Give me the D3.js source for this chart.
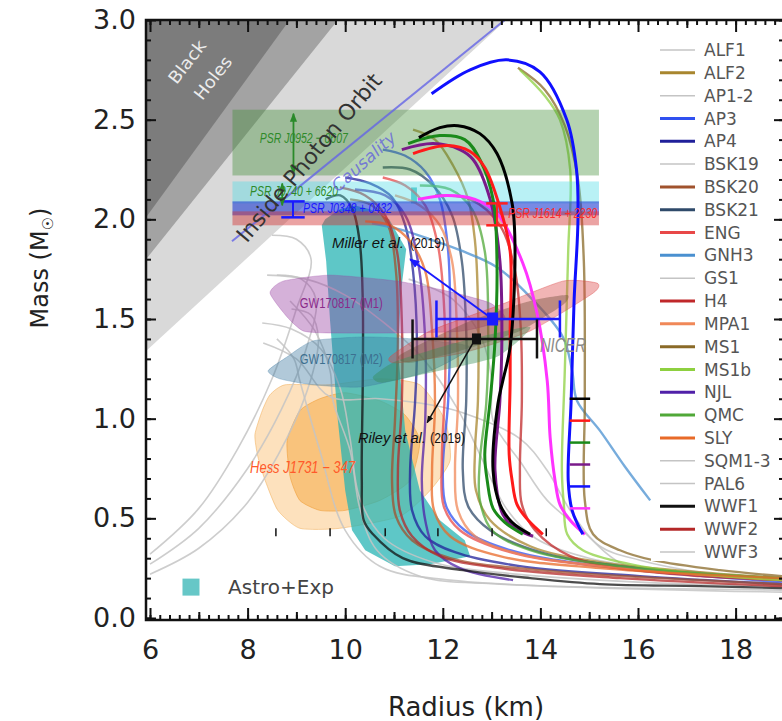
<!DOCTYPE html>
<html>
<head>
<meta charset="utf-8">
<script src="https://cdn.jsdelivr.net/npm/d3@7"></script>
<style>
body { margin: 0; background: #fff; }
</style>
</head>
<body>
<div id="chart"></div>
<script>
// mass-radius diagram: EOS curves + observational constraints
var W = 782, H = 721;

// limit lines, [R km, M Msun]
var bhEdge = [[5.92, 2.01], [8.86, 3.0]];
var buchdahlEdge = [[5.92, 1.80], [9.85, 3.0]];
var photonEdge = [[5.92, 1.34], [13.3, 3.0]];
var causalLine = [[7.68, 1.89], [13.27, 3.0]];

// pulsar mass bands
var psrNames = ["PSR J0952 − 0607", "PSR J0740 + 6620", "PSR J0348 + 0432", "PSR J1614 + 2230"];
var psrLo = [2.22, 2.08, 2.02, 1.97];
var psrHi = [2.55, 2.19, 2.09, 2.04];
var psrR = [7.69, 15.2];

// shaded constraint regions
var astroExp = [[9.52,1.97],[9.61,1.79],[9.69,1.49],[9.85,0.99],[10.0,0.64],[10.14,0.44],[10.41,0.34],[11.02,0.26],[11.74,0.27],[12.56,0.31],[12.45,0.39],[11.94,0.49],[11.53,0.64],[11.23,0.94],[11.08,1.34],[11.15,1.65],[11.25,1.85],[10.9,2.0],[10.51,2.05],[10.2,2.07],[9.89,2.05],[9.59,2.0]];
var astroTab = [[11.35,2.08],[11.35,2.16],[11.47,2.16],[11.47,2.08]];
var hessOuter = [[8.15,0.92],[8.30,1.04],[8.46,1.12],[8.77,1.17],[9.69,1.17],[10.71,1.20],[11.53,1.17],[12.05,0.99],[12.15,0.79],[11.74,0.64],[11.12,0.51],[9.89,0.45],[9.07,0.45],[8.62,0.54],[8.36,0.69],[8.21,0.81]];
var hessInner = [[8.81,0.89],[9.07,1.04],[9.48,1.10],[10.0,1.13],[10.71,1.09],[11.22,1.02],[11.53,0.89],[11.33,0.69],[10.71,0.59],[10.0,0.54],[9.48,0.54],[9.07,0.59],[8.87,0.71]];
var gwM1 = [[8.46,1.63],[8.73,1.69],[9.69,1.72],[11.06,1.69],[12.09,1.64],[12.97,1.58],[13.27,1.50],[12.41,1.44],[11.06,1.43],[9.69,1.43],[9.14,1.44],[8.81,1.51]];
var gwM2 = [[8.42,1.24],[8.81,1.31],[9.34,1.39],[10.36,1.41],[11.39,1.40],[12.56,1.36],[11.74,1.24],[10.36,1.16],[9.34,1.17],[8.66,1.20]];
var nicerRed = [[10.92,1.31],[11.74,1.44],[13.17,1.57],[14.46,1.69],[15.16,1.68],[15.08,1.63],[13.79,1.44],[12.41,1.33],[11.06,1.28]];
var nicerBrown = [[11.12,1.32],[12.56,1.49],[13.79,1.59],[14.55,1.62],[14.46,1.57],[13.58,1.44],[12.35,1.34],[11.33,1.28]];
var nicerGreen = [[10.57,1.21],[11.06,1.29],[12.41,1.39],[13.79,1.46],[13.11,1.31],[11.74,1.23],[10.77,1.18]];

// NICER points: R, M, R low, R high, M half-error
var miller = [13.02, 1.50, 11.87, 14.40, 0.093];
var riley = [12.69, 1.40, 11.38, 13.93, 0.098];

// EOS curves
var eosNames = ["ALF1","ALF2","AP1-2","AP3","AP4","BSK19","BSK20","BSK21","ENG","GNH3","GS1","H4","MPA1","MS1","MS1b","NJL","QMC","SLY","SQM1-3","PAL6","WWF1","WWF2","WWF3"];
var alf1 = [[8.32,1.38],[9.0,1.30],[9.69,1.11],[10.71,1.10],[11.74,1.07],[12.41,1.03],[13.58,0.90],[14.14,0.74],[14.61,0.54],[15.22,0.36],[16.04,0.29],[17.27,0.23],[18.95,0.19]];
var alf2 = [[11.39,2.45],[11.84,2.40],[12.21,2.27],[12.52,2.10],[12.66,1.89],[12.72,1.59],[12.72,1.09],[12.66,0.84],[12.68,0.64],[12.97,0.49],[13.79,0.36],[15.22,0.28],[17.27,0.23],[18.95,0.20]];
var ap12 = [[8.87,1.59],[9.38,1.44],[9.69,1.24],[9.75,1.09],[10.1,0.84],[10.3,0.55],[10.65,0.34],[11.53,0.21],[13.17,0.17],[18.95,0.14]];
var ap3 = [[10.77,2.35],[11.22,2.32],[11.64,2.24],[11.94,2.10],[12.11,1.84],[12.15,1.44],[12.11,1.09],[12.00,0.74],[12.07,0.56],[12.45,0.44],[13.38,0.34],[15.22,0.26],[18.95,0.18]];
var ap4 = [[10.0,2.21],[10.51,2.18],[10.96,2.11],[11.23,1.97],[11.39,1.74],[11.47,1.39],[11.43,1.075],[11.33,0.74],[11.37,0.54],[11.64,0.41],[12.25,0.33],[13.58,0.26],[16.04,0.21],[18.95,0.17]];
var bsk19 = [[8.6,1.40],[8.95,1.30],[9.07,1.19],[9.48,0.84],[10.0,0.44],[10.71,0.26],[12.15,0.19],[18.95,0.13]];
var bsk20 = [[10.1,2.10],[10.55,2.07],[10.88,1.97],[11.04,1.74],[11.08,1.39],[11.02,0.99],[10.96,0.69],[11.04,0.51],[11.37,0.39],[12.15,0.30],[13.99,0.24],[18.95,0.17]];
var bsk21 = [[10.77,2.26],[11.33,2.25],[11.80,2.17],[12.19,2.02],[12.39,1.79],[12.48,1.44],[12.48,1.09],[12.41,0.74],[12.52,0.56],[12.97,0.44],[13.99,0.33],[15.63,0.26],[18.95,0.19]];
var eng = [[10.77,2.21],[11.23,2.17],[11.64,2.07],[11.90,1.87],[12.02,1.59],[12.05,1.19],[11.98,0.79],[12.02,0.56],[12.35,0.44],[13.38,0.33],[15.22,0.26],[18.95,0.19]];
var gnh3 = [[10.55,1.98],[11.12,1.95],[11.74,1.90],[12.41,1.84],[13.11,1.76],[13.79,1.61],[14.46,1.41],[14.65,1.24],[14.75,1.09],[15.22,0.94],[15.73,0.76],[16.25,0.59]];
var gs1 = [[11.3,1.70],[12.2,1.60],[12.8,1.40],[13.0,1.20],[13.03,0.99],[13.6,0.78],[14.14,0.59],[14.81,0.45],[15.69,0.27],[17.0,0.22],[18.95,0.19]];
var h4 = [[11.84,2.12],[12.56,2.10],[13.17,1.97],[13.48,1.74],[13.60,1.44],[13.62,1.09],[13.58,0.74],[13.62,0.57],[13.89,0.44],[14.61,0.31],[15.63,0.25],[17.27,0.21],[18.95,0.19]];
var mpa1 = [[11.02,2.12],[11.53,2.07],[11.94,1.97],[12.19,1.79],[12.29,1.44],[12.31,1.075],[12.25,0.74],[12.31,0.54],[12.66,0.41],[13.58,0.32],[15.63,0.25],[18.95,0.19]];
var ms1 = [[13.54,2.76],[14.09,2.65],[14.50,2.47],[14.77,2.20],[14.89,1.79],[14.91,1.09],[14.91,0.59],[15.08,0.42],[15.63,0.34],[16.31,0.29],[17.68,0.24],[18.95,0.21]];
var ms1b = [[13.58,2.75],[14.09,2.62],[14.40,2.50],[14.61,2.25],[14.57,1.84],[14.50,1.24],[14.44,0.74],[14.48,0.57],[14.55,0.42],[14.87,0.34],[15.84,0.27],[17.27,0.22],[18.95,0.19]];
var njl = [[10.2,2.15],[10.82,2.12],[11.23,2.02],[11.49,1.79],[11.64,1.39],[11.64,0.99],[11.57,0.69],[11.64,0.49],[11.84,0.34],[12.35,0.25],[13.44,0.19]];
var qmc = [[11.53,2.17],[12.15,2.15],[12.60,2.05],[12.86,1.84],[12.93,1.44],[12.89,1.075],[12.76,0.79],[12.76,0.59],[13.01,0.44],[13.79,0.34],[15.63,0.26],[18.95,0.20]];
var sly = [[10.41,1.99],[10.92,1.97],[11.33,1.89],[11.64,1.74],[11.78,1.44],[11.84,1.075],[11.78,0.74],[11.82,0.54],[12.15,0.41],[13.17,0.31],[15.22,0.25],[18.95,0.20]];
var sqm1 = [[6.0,0.22],[7.0,0.35],[8.0,0.58],[8.8,0.90],[9.3,1.20],[9.45,1.40],[9.3,1.52],[8.9,1.55]];
var sqm2 = [[6.0,0.27],[7.0,0.45],[8.0,0.75],[8.7,1.05],[9.2,1.35],[9.4,1.60],[9.1,1.70],[8.6,1.72]];
var sqm3 = [[6.0,0.32],[7.0,0.55],[7.8,0.85],[8.5,1.20],[9.0,1.55],[9.3,1.80],[9.0,1.90],[8.5,1.92]];
var pal6 = [[8.3,1.48],[8.9,1.45],[9.5,1.35],[9.9,1.15],[10.1,0.90],[10.3,0.60],[10.8,0.40],[11.8,0.28],[13.5,0.22],[16.0,0.18],[18.95,0.16]];
var wwf1 = [[9.60,2.10],[9.90,2.12],[10.15,2.05],[10.30,1.88],[10.36,1.59],[10.36,1.19],[10.34,0.69],[10.38,0.49],[10.57,0.42],[11.18,0.30],[12.41,0.24],[13.79,0.20],[15.22,0.17],[17.27,0.16],[18.95,0.15]];
var wwf2 = [[9.89,2.16],[10.41,2.12],[10.82,2.02],[11.06,1.84],[11.16,1.49],[11.16,1.075],[11.08,0.74],[11.12,0.54],[11.37,0.41],[11.94,0.31],[13.17,0.25],[15.63,0.20],[18.95,0.16]];
var wwf3 = [[8.4,1.72],[9.2,1.70],[10.0,1.62],[10.8,1.48],[11.6,1.30],[12.3,1.05],[12.8,0.80],[13.3,0.55],[13.9,0.40],[15.0,0.30],[17.0,0.23],[18.95,0.20]];

// overlaid bold curves (inset), keyed by colour tick
var boldBlack = [[11.51,2.41],[11.94,2.46],[12.31,2.47],[12.76,2.43],[13.11,2.33],[13.42,2.08],[13.48,1.84],[13.38,1.36],[13.23,1.19],[13.13,1.075],[13.03,0.74],[13.17,0.57],[13.42,0.48],[13.79,0.42]];
var boldRed = [[11.39,2.33],[12.09,2.37],[12.56,2.34],[12.86,2.26],[13.17,2.06],[13.38,1.84],[13.38,1.44],[13.38,1.19],[13.36,0.82],[13.42,0.69],[13.52,0.57],[13.75,0.49],[14.05,0.42]];
var boldGreen = [[11.29,2.38],[11.94,2.42],[12.45,2.40],[12.76,2.30],[13.03,2.10],[13.11,1.79],[13.07,1.39],[12.97,1.09],[12.86,0.82],[12.91,0.69],[13.03,0.55],[13.27,0.48],[13.64,0.42]];
var boldPurple = [[11.16,2.35],[11.80,2.38],[12.35,2.35],[12.62,2.30],[12.97,2.10],[13.17,1.79],[13.21,1.39],[13.17,1.09],[13.07,0.74],[13.23,0.52],[13.48,0.45],[13.85,0.41]];
var boldBlue = [[11.77,2.63],[12.56,2.75],[13.31,2.80],[13.99,2.74],[14.54,2.50],[14.74,2.25],[14.77,2.0],[14.69,1.59],[14.63,1.09],[14.57,0.69],[14.65,0.54],[14.87,0.42]];
var boldMagenta = [[11.49,2.10],[12.09,2.12],[12.66,2.10],[13.11,2.03],[13.64,1.78],[13.93,1.53],[14.14,1.19],[14.20,0.905],[14.30,0.69],[14.40,0.57],[14.61,0.49],[14.91,0.42]];
var insetKeyM = [1.10, 0.99, 0.88, 0.77, 0.66, 0.55];
var insetKeyR = [14.60, 15.02];
var insetTickR = [8.58, 9.69, 10.82, 11.90, 13.01, 14.12];

// ---------------- scales
var x = d3.scaleLinear().domain([6, 19]).range([150, 784.4]);
var y = d3.scaleLinear().domain([0, 3]).range([618, 20]);
var x0 = 146, x1 = 784, y0 = 20, y1 = 620;

var eosColor = d3.scaleOrdinal(eosNames, ["#c4c4c4","#a8862e","#c4c4c4","#3050f0","#20209a","#c4c4c4","#a0522d","#2f4a6a","#e84848","#4a90d0","#c4c4c4","#c0282a","#f08858","#8a6a28","#8ed040","#5020a8","#50a838","#e86a28","#c4c4c4","#c4c4c4","#111111","#b42828","#c4c4c4"]);
var grayEos = ["ALF1","AP1-2","BSK19","GS1","SQM1-3","PAL6","WWF3"];

var eosTable = [
  {name:"ALF1", pts:alf1}, {name:"AP1-2", pts:ap12}, {name:"BSK19", pts:bsk19}, {name:"GS1", pts:gs1},
  {name:"SQM1-3", pts:sqm1}, {name:"SQM1-3", pts:sqm2}, {name:"SQM1-3", pts:sqm3},
  {name:"PAL6", pts:pal6}, {name:"WWF3", pts:wwf3},
  {name:"ALF2", pts:alf2}, {name:"AP3", pts:ap3}, {name:"AP4", pts:ap4}, {name:"BSK20", pts:bsk20},
  {name:"BSK21", pts:bsk21}, {name:"ENG", pts:eng}, {name:"GNH3", pts:gnh3}, {name:"H4", pts:h4},
  {name:"MPA1", pts:mpa1}, {name:"MS1", pts:ms1}, {name:"MS1b", pts:ms1b}, {name:"NJL", pts:njl},
  {name:"QMC", pts:qmc}, {name:"SLY", pts:sly}, {name:"WWF1", pts:wwf1}, {name:"WWF2", pts:wwf2}
];
var boldTable = [
  {pts:boldMagenta, c:"#ff33ff"}, {pts:boldBlue, c:"#1010ff"}, {pts:boldPurple, c:"#7a1a8a"},
  {pts:boldGreen, c:"#1a8a1a"}, {pts:boldRed, c:"#ff1a1a"}, {pts:boldBlack, c:"#000000"}
];
var insetKeyColors = ["#000000","#ff1a1a","#1a8a1a","#7a1a8a","#1010ff","#ff33ff"];

// ---------------- svg
var svg = d3.select("#chart").append("svg")
  .attr("width", W).attr("height", H)
  .style("font-family", "DejaVu Sans, sans-serif");
var defs = svg.append("defs");
defs.append("clipPath").attr("id", "plotclip")
  .append("rect").attr("x", x0).attr("y", y0).attr("width", x1 - x0).attr("height", y1 - y0);
function addArrow(id, color) {
  defs.append("marker")
    .attr("id", id)
    .attr("viewBox", "0 -5 10 10")
    .attr("refX", 9).attr("refY", 0)
    .attr("markerWidth", 5).attr("markerHeight", 5)
    .attr("orient", "auto-start-reverse")
    .append("path").attr("d", "M0,-4L10,0L0,4Z").attr("fill", color);
}
addArrow("arrBlue", "#1a1aff");
addArrow("arrBlack", "#111");
addArrow("arrGreen", "#2a8a2a");

var line = d3.line().x(function(d){ return x(d[0]); }).y(function(d){ return y(d[1]); })
  .curve(d3.curveCatmullRom.alpha(0.5));
var poly = d3.line().x(function(d){ return x(d[0]); }).y(function(d){ return y(d[1]); })
  .curve(d3.curveLinearClosed);
var blob = d3.line().x(function(d){ return x(d[0]); }).y(function(d){ return y(d[1]); })
  .curve(d3.curveCardinalClosed.tension(0.4));

var plot = svg.append("g").attr("clip-path", "url(#plotclip)");

// gray exclusion triangles
function wedge(edge) { return [[5.92, 3.0], edge[0], edge[1]]; }
plot.append("path").attr("d", poly(wedge(photonEdge))).attr("fill", "#d9d9d9");
plot.append("path").attr("d", poly(wedge(buchdahlEdge))).attr("fill", "#a3a3a3");
plot.append("path").attr("d", poly(wedge(bhEdge))).attr("fill", "#7c7c7c");

// Hess and astro+exp regions
plot.append("path").attr("d", blob(hessOuter)).attr("fill", "rgba(250,180,90,0.4)").attr("stroke", "rgba(240,170,80,0.5)");
plot.append("path").attr("d", blob(hessInner)).attr("fill", "rgba(245,165,60,0.5)").attr("stroke", "rgba(240,160,60,0.6)");
plot.append("path").attr("d", poly(astroExp)).attr("fill", "rgba(40,180,180,0.75)");
plot.append("path").attr("d", poly(astroTab)).attr("fill", "rgba(40,180,180,0.75)");

// EOS curves
plot.selectAll("path.eos").data(eosTable).join("path")
  .attr("class", "eos")
  .attr("d", function(d){ return line(d.pts); })
  .attr("fill", "none")
  .attr("stroke", function(d){ return eosColor(d.name); })
  .attr("stroke-width", function(d){ return grayEos.indexOf(d.name) >= 0 ? 1.6 : 2.4; })
  .attr("stroke-opacity", function(d){ return grayEos.indexOf(d.name) >= 0 ? 0.85 : 0.75; });

// pulsar bands
var bandFill = ["rgba(60,140,50,0.38)", "rgba(80,220,230,0.4)", "rgba(30,60,210,0.6)", "rgba(210,50,50,0.45)"];
plot.selectAll("rect.band").data(psrNames).join("rect")
  .attr("class", "band")
  .attr("x", x(psrR[0])).attr("width", x(psrR[1]) - x(psrR[0]))
  .attr("y", function(d, i){ return y(psrHi[i]); })
  .attr("height", function(d, i){ return y(psrLo[i]) - y(psrHi[i]); })
  .attr("fill", function(d, i){ return bandFill[i]; });

// GW / NICER posteriors
plot.append("path").attr("d", blob(gwM1)).attr("fill", "rgba(150,60,160,0.4)").attr("stroke", "rgba(150,60,160,0.3)");
plot.append("path").attr("d", blob(gwM2)).attr("fill", "rgba(60,120,160,0.4)").attr("stroke", "rgba(60,120,160,0.3)");
plot.append("path").attr("d", blob(nicerRed)).attr("fill", "rgba(220,70,70,0.4)").attr("stroke", "rgba(220,70,70,0.4)");
plot.append("path").attr("d", blob(nicerBrown)).attr("fill", "rgba(110,75,55,0.4)");
plot.append("path").attr("d", blob(nicerGreen)).attr("fill", "rgba(50,140,80,0.4)");

// causality line
plot.append("path").attr("d", line(causalLine)).attr("stroke", "rgba(100,100,230,0.8)").attr("stroke-width", 2).attr("fill", "none");

// bold inset curves
plot.selectAll("path.bold").data(boldTable).join("path")
  .attr("class", "bold")
  .attr("d", function(d){ return line(d.pts); })
  .attr("fill", "none").attr("stroke", function(d){ return d.c; }).attr("stroke-width", 3);
plot.selectAll("line.key").data(insetKeyM).join("line")
  .attr("class", "key")
  .attr("x1", x(insetKeyR[0])).attr("x2", x(insetKeyR[1]))
  .attr("y1", function(d){ return y(d); }).attr("y2", function(d){ return y(d); })
  .attr("stroke", function(d, i){ return insetKeyColors[i]; }).attr("stroke-width", 2.5);
plot.selectAll("line.itick").data(insetTickR).join("line")
  .attr("class", "itick")
  .attr("x1", function(d){ return x(d); }).attr("x2", function(d){ return x(d); })
  .attr("y1", y(0.45)).attr("y2", y(0.41))
  .attr("stroke", "#111").attr("stroke-width", 1.5);

// error bars for pulsar masses
function ibar(g, r, rHalf, mLo, mHi, color) {
  g.append("line").attr("x1", x(r)).attr("x2", x(r)).attr("y1", y(mHi)).attr("y2", y(mLo)).attr("stroke", color).attr("stroke-width", 2);
  [mLo, mHi].forEach(function(m){
    g.append("line").attr("x1", x(r - rHalf)).attr("x2", x(r + rHalf)).attr("y1", y(m)).attr("y2", y(m)).attr("stroke", color).attr("stroke-width", 2.5);
  });
}
ibar(plot, 8.93, 0.24, 2.01, 2.09, "#1a1aff");
ibar(plot, 13.11, 0.22, 1.97, 2.08, "#ff2020");

// green double arrows
[[8.94, 2.53, 2.23], [8.71, 2.18, 2.07]].forEach(function(a){
  plot.append("line").attr("x1", x(a[0])).attr("x2", x(a[0])).attr("y1", y(a[1])).attr("y2", y(a[2]))
    .attr("stroke", "#2a8a2a").attr("stroke-width", 1.8)
    .attr("marker-start", "url(#arrGreen)").attr("marker-end", "url(#arrGreen)");
});

// NICER error bars
function nicerBar(p, color, sq) {
  var g = plot.append("g");
  g.append("line").attr("x1", x(p[2])).attr("x2", x(p[3])).attr("y1", y(p[1])).attr("y2", y(p[1])).attr("stroke", color).attr("stroke-width", 2.5);
  [p[2], p[3]].forEach(function(r){
    g.append("line").attr("x1", x(r)).attr("x2", x(r)).attr("y1", y(p[1] + p[4])).attr("y2", y(p[1] - p[4])).attr("stroke", color).attr("stroke-width", 2.5);
  });
  g.append("rect").attr("x", x(p[0]) - sq / 2).attr("y", y(p[1]) - sq / 2 - 1).attr("width", sq).attr("height", sq + 2).attr("fill", color);
}
nicerBar(miller, "#1a1aff", 11);
nicerBar(riley, "#111", 9);
plot.append("line").attr("x1", x(miller[0])).attr("y1", y(miller[1])).attr("x2", x(11.33)).attr("y2", y(1.80))
  .attr("stroke", "#1a1aff").attr("stroke-width", 2).attr("marker-end", "url(#arrBlue)");
plot.append("line").attr("x1", x(12.62)).attr("y1", y(1.38)).attr("x2", x(11.68)).attr("y2", y(0.98))
  .attr("stroke", "#111").attr("stroke-width", 1.5).attr("marker-end", "url(#arrBlack)");

// ---------------- text labels
var narrow = "Liberation Sans Narrow, Liberation Sans, Arial, sans-serif";
function label(txt, r, m, size, color, len, italic) {
  return svg.append("text").attr("x", x(r)).attr("y", y(m))
    .attr("font-family", narrow).attr("font-size", size)
    .attr("font-style", italic === false ? "normal" : "italic")
    .attr("fill", color).attr("textLength", len).attr("lengthAdjust", "spacingAndGlyphs")
    .text(txt);
}
label(psrNames[0], 8.25, 2.383, 15, "#2f8a2a", 88);
label(psrNames[1], 8.05, 2.115, 14, "#2f8a2a", 88);
label(psrNames[2], 9.135, 2.033, 14, "#1a1aff", 89);
label(psrNames[3], 13.34, 2.007, 15, "#ff2a2a", 89);
label("GW170817 (M1)", 9.07, 1.555, 15, "#8a2a8a", 83, false);
label("GW170817 (M2)", 9.07, 1.274, 15, "#3d7090", 83, false);
label("Hess J1731 − 347", 8.05, 0.727, 16, "#ff5a2a", 105);
label("NICER", 13.99, 1.334, 21, "#8a8a8a", 46);
label("Miller et al.", 9.73, 1.856, 15, "#111", 72);
label("(2019)", 11.33, 1.856, 15, "#111", 35, false);
label("Riley et al.", 10.26, 0.878, 15, "#111", 68);
label("(2019)", 11.74, 0.878, 15, "#111", 35, false);

function rotLabel(txt, r, m, ang, size, color, len, italic) {
  svg.append("text")
    .attr("transform", "translate(" + x(r) + "," + y(m) + ") rotate(" + ang + ")")
    .attr("text-anchor", "middle").attr("dy", "0.35em")
    .attr("font-size", size).attr("fill", color)
    .attr("font-style", italic ? "italic" : "normal")
    .attr("textLength", len).attr("lengthAdjust", "spacingAndGlyphs")
    .text(txt);
}
rotLabel("Causality", 10.38, 2.29, -42, 17, "rgba(100,100,220,0.8)", 80, true);
rotLabel("Inside Photon Orbit", 9.26, 2.31, -50, 22, "#333", 212, false);
rotLabel("Black", 6.76, 2.79, -52, 17, "#ececec", 50, false);
rotLabel("Holes", 7.29, 2.71, -52, 17, "#ececec", 50, false);

// astro+exp key
svg.append("rect").attr("x", x(6.84) - 8.5).attr("y", y(0.155) - 8.5).attr("width", 17).attr("height", 17).attr("fill", "#66c7c7");
svg.append("text").attr("x", x(7.6)).attr("y", y(0.12)).attr("font-size", 20).attr("fill", "#444").text("Astro+Exp");

// ---------------- legend
var ly = d3.scalePoint().domain(eosNames).range([50, 552]);
svg.append("rect").attr("x", 651).attr("y", 37).attr("width", 124).attr("height", 524).attr("fill", "#fff");
var leg = svg.append("g").selectAll("g").data(eosNames).join("g")
  .attr("transform", function(d){ return "translate(0," + ly(d) + ")"; });
leg.append("line").attr("x1", 660).attr("x2", 695).attr("y1", 0).attr("y2", 0)
  .attr("stroke", function(d){ return eosColor(d); })
  .attr("stroke-width", function(d){ return grayEos.indexOf(d) >= 0 ? 1.5 : 3; });
leg.append("text").attr("x", 704).attr("dy", "0.36em").attr("font-size", 17).attr("fill", "#555").text(function(d){ return d; });

// ---------------- axes and frame
function tickLayer(axis, tr, vals, size) {
  var g = svg.append("g").attr("transform", tr)
    .call(axis.tickValues(vals).tickSize(-size).tickFormat(""));
  g.select(".domain").remove();
  g.selectAll("line").attr("stroke", "#111").attr("stroke-width", 2);
  return g;
}
var xMinor = d3.range(6, 19.01, 0.2).map(function(v){ return +v.toFixed(1); });
var xOdd = [7, 9, 11, 13, 15, 17, 19];
var xMajor = [6, 8, 10, 12, 14, 16, 18];
var yMinor = d3.range(0, 3.001, 0.1).map(function(v){ return +v.toFixed(1); });
var yMajor = [0, 0.5, 1, 1.5, 2, 2.5, 3];

[[d3.axisBottom(x), "translate(0," + y1 + ")"], [d3.axisTop(x), "translate(0," + y0 + ")"]].forEach(function(a){
  tickLayer(a[0], a[1], xMinor, 5);
  tickLayer(a[0], a[1], xOdd, 8);
  tickLayer(a[0], a[1], xMajor, 12);
});
[[d3.axisLeft(y), "translate(" + x0 + ",0)"], [d3.axisRight(y), "translate(" + x1 + ",0)"]].forEach(function(a){
  tickLayer(a[0], a[1], yMinor, 5);
  tickLayer(a[0], a[1], yMajor, 10);
});

var xl = svg.append("g").attr("transform", "translate(0," + y1 + ")")
  .call(d3.axisBottom(x).tickValues(xMajor).tickSize(0).tickPadding(20).tickFormat(d3.format("d")));
xl.select(".domain").remove();
xl.selectAll("text").attr("font-size", 27).attr("font-family", "DejaVu Sans, sans-serif").attr("fill", "#222");
var yl = svg.append("g").attr("transform", "translate(" + x0 + ",0)")
  .call(d3.axisLeft(y).tickValues(yMajor).tickSize(0).tickPadding(10).tickFormat(d3.format(".1f")));
yl.select(".domain").remove();
yl.selectAll("text").attr("font-size", 27).attr("font-family", "DejaVu Sans, sans-serif").attr("fill", "#222");

svg.append("rect").attr("x", x0).attr("y", y0).attr("width", x1 - x0).attr("height", y1 - y0)
  .attr("fill", "none").attr("stroke", "#111").attr("stroke-width", 2.5);

svg.append("text").attr("x", 466).attr("y", 716).attr("text-anchor", "middle")
  .attr("font-size", 26).attr("fill", "#222").text("Radius (km)");
var ylab = svg.append("text").attr("transform", "translate(48,268) rotate(-90)")
  .attr("text-anchor", "middle").attr("font-size", 24).attr("fill", "#222");
ylab.append("tspan").text("Mass (M");
ylab.append("tspan").attr("font-size", 15).attr("dy", 5).text("☉");
ylab.append("tspan").attr("dy", -5).text(")");
</script>
</body>
</html>
